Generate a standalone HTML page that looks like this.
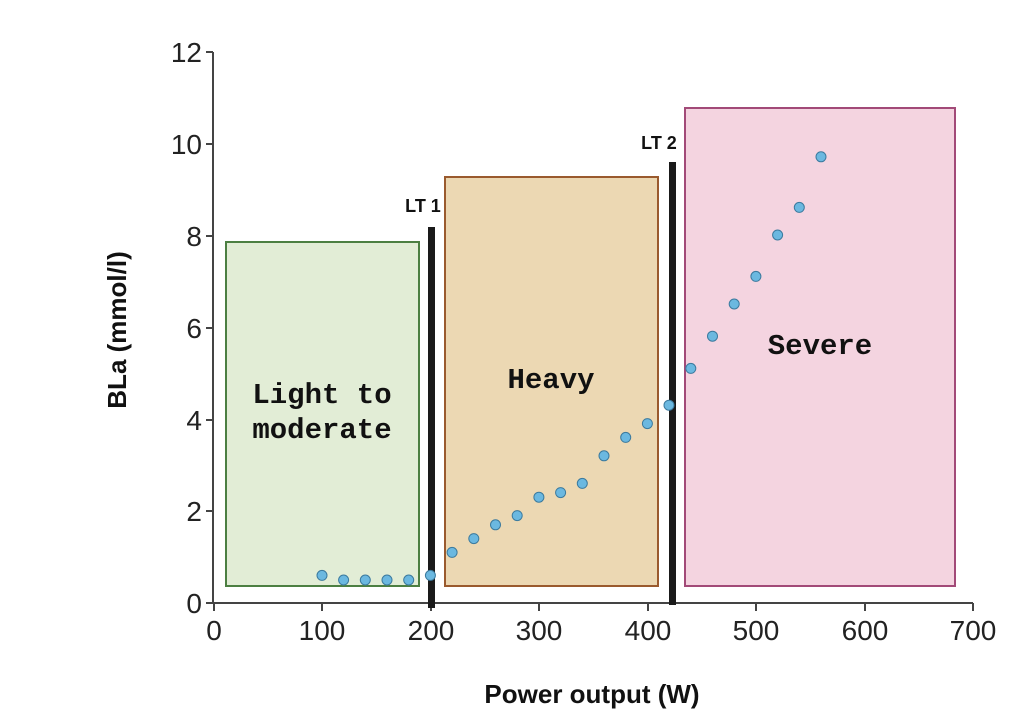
<!DOCTYPE html>
<html><head><style>body{margin:0;background:#fff}svg{display:block}</style></head><body>
<svg width="1023" height="719" xmlns="http://www.w3.org/2000/svg" font-family="Liberation Sans, sans-serif">
<rect x="226" y="242" width="193" height="344" fill="#e2edd6" stroke="#4c7f42" stroke-width="2"/>
<rect x="445" y="177" width="213" height="409" fill="#ecd8b3" stroke="#9a5a2e" stroke-width="2"/>
<rect x="685" y="108" width="270" height="478" fill="#f4d4e0" stroke="#a24a78" stroke-width="2"/>
<g stroke="#444" stroke-width="2" fill="none">
<path d="M213 52 V603 H973"/>
<path d="M206 52H213M206 144H213M206 236H213M206 328H213M206 420H213M206 511H213M206 603H213"/>
<path d="M214 603V611M322 603V611M431 603V611M539 603V611M648 603V611M756 603V611M865 603V611M973 603V611"/>
</g>
<g font-size="28" fill="#222" text-anchor="end">
<text x="202" y="62">12</text><text x="202" y="154">10</text><text x="202" y="246">8</text><text x="202" y="338">6</text><text x="202" y="430">4</text><text x="202" y="521">2</text><text x="202" y="613">0</text>
</g>
<g font-size="28" fill="#222" text-anchor="middle">
<text x="214" y="640">0</text><text x="322" y="640">100</text><text x="431" y="640">200</text><text x="539" y="640">300</text><text x="648" y="640">400</text><text x="756" y="640">500</text><text x="865" y="640">600</text><text x="973" y="640">700</text>
</g>
<text x="592" y="703" font-size="26" font-weight="bold" text-anchor="middle" fill="#111">Power output (W)</text>
<text transform="translate(126,330) rotate(-90)" font-size="26" font-weight="bold" text-anchor="middle" fill="#111">BLa (mmol/l)</text>
<rect x="428" y="227" width="7" height="381" fill="#1a1a1a"/>
<rect x="669" y="162" width="7" height="443" fill="#1a1a1a"/>
<text x="423" y="212" font-size="18" font-weight="bold" text-anchor="middle" fill="#111">LT 1</text>
<text x="659" y="149" font-size="18" font-weight="bold" text-anchor="middle" fill="#111">LT 2</text>
<g font-family="Liberation Mono, monospace" font-size="29" font-weight="bold" fill="#111" text-anchor="middle">
<text x="322" y="403">Light to</text><text x="322" y="438">moderate</text>
<text x="551" y="388">Heavy</text>
<text x="820" y="354">Severe</text>
</g>
<g fill="#6bb8e0" stroke="#3b7a9e" stroke-width="1">
<circle cx="322" cy="575.4" r="5"/><circle cx="343.6" cy="580" r="5"/><circle cx="365.3" cy="580" r="5"/><circle cx="387" cy="580" r="5"/><circle cx="408.7" cy="580" r="5"/><circle cx="430.4" cy="575.4" r="5"/><circle cx="452.1" cy="552.4" r="5"/><circle cx="473.8" cy="538.6" r="5"/><circle cx="495.5" cy="524.8" r="5"/><circle cx="517.2" cy="515.6" r="5"/><circle cx="538.9" cy="497.2" r="5"/><circle cx="560.6" cy="492.6" r="5"/><circle cx="582.3" cy="483.4" r="5"/><circle cx="604" cy="455.8" r="5"/><circle cx="625.7" cy="437.4" r="5"/><circle cx="647.4" cy="423.6" r="5"/><circle cx="669" cy="405.2" r="5"/><circle cx="690.8" cy="368.4" r="5"/><circle cx="712.5" cy="336.2" r="5"/><circle cx="734.2" cy="304" r="5"/><circle cx="755.9" cy="276.4" r="5"/><circle cx="777.6" cy="235" r="5"/><circle cx="799.3" cy="207.4" r="5"/><circle cx="821" cy="156.8" r="5"/>
</g>
</svg>
</body></html>
